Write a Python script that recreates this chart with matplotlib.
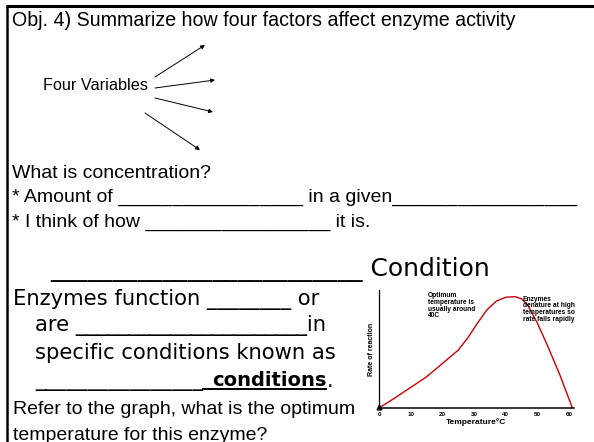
import matplotlib
matplotlib.use("Agg")
import matplotlib.pyplot as plt

# curve (temperature in C, relative rate)
temps = [0, 5, 10, 15, 20, 25, 28, 31, 34, 37, 40, 43, 45, 47, 50, 53, 57, 61]
rates = [0, 9, 18.5, 28, 40, 52, 63, 76, 88, 96, 99.5, 100, 98, 92, 76, 57, 30, 0]
xticks = [0, 10, 20, 30, 40, 50, 60]

title_text = "Obj. 4) Summarize how four factors affect enzyme activity"
arial_lines = [
    "What is concentration?",
    "* Amount of _________________ in a given_________________",
    "* I think of how _________________ it is.",
]
comic_lines = [
    "Enzymes function ________ or",
    "are ______________________in",
    "specific conditions known as",
]
question = ["Refer to the graph, what is the optimum", "temperature for this enzyme?"]
note_opt = "Optimum\ntemperature is\nusually around\n40C"
note_den = "Enzymes\ndenature at high\ntemperatures so\nrate falls rapidly"

W, H = 594, 442
fig = plt.figure(figsize=(W / 100, H / 100), dpi=100)
bg = fig.add_axes([0, 0, 1, 1])
bg.set_xlim(0, W)
bg.set_ylim(H, 0)
bg.axis("off")

sans = "Liberation Sans"
comic = "DejaVu Sans"

# slide border (top and left)
bg.plot([6, W], [5.5, 5.5], color="black", lw=2.2, solid_capstyle="butt")
bg.plot([7, 7], [4.5, H], color="black", lw=1.8, solid_capstyle="butt")

bg.text(12, 21, title_text, fontsize=14.1, family=sans, va="center")
bg.text(43, 85, "Four Variables", fontsize=11.7, family=sans, va="center")

arrows = [((155, 77), (205, 45)), ((155, 88), (215, 80)),
          ((155, 98), (213, 112)), ((145, 113), (200, 150))]
for start, tip in arrows:
    bg.annotate("", xy=tip, xytext=start,
                arrowprops=dict(arrowstyle="-|>", color="black", lw=0.7,
                                mutation_scale=6, shrinkA=0, shrinkB=0))

for i, line in enumerate(arial_lines):
    bg.text(12, 173 + 24.5 * i, line, fontsize=14, family=sans, va="center")

bg.text(50, 270, "_________________________ Condition", fontsize=18,
        family=comic, va="center")

bg.text(13, 299, comic_lines[0], fontsize=15.2, family=comic, va="center")
bg.text(35, 326, comic_lines[1], fontsize=15.2, family=comic, va="center")
bg.text(35, 353, comic_lines[2], fontsize=15.2, family=comic, va="center")
blank = bg.text(35, 381, "________________", fontsize=15.2, family=comic, va="center")
fig.canvas.draw()
bb = blank.get_window_extent()
x_end = bb.x1 / fig.dpi * 100
word = bg.text(x_end + 9, 381, "conditions", fontsize=14, family=comic,
               weight="bold", va="center")
fig.canvas.draw()
wb = word.get_window_extent()
bg.plot([x_end, wb.x1], [388.5, 388.5], color="black", lw=1.4)
bg.text(wb.x1, 381, ".", fontsize=15.2, family=comic, va="center")

bg.text(13, 410, question[0], fontsize=14, family=sans, va="center")
bg.text(13, 435, question[1], fontsize=14, family=sans, va="center")

# the small graph
ax = fig.add_axes([379 / W, (H - 408) / H, (574 - 379) / W, (408 - 290) / H])
ax.plot(temps, rates, color="#cc0000", lw=1.0)
ax.set_xlim(0, 61.5)
ax.set_ylim(0, 106)
ax.spines["top"].set_visible(False)
ax.spines["right"].set_visible(False)
ax.spines["left"].set_linewidth(0.9)
ax.spines["bottom"].set_linewidth(1.1)
ax.plot(0, 1, marker="^", color="black", markersize=3.5,
        transform=ax.get_yaxis_transform(), clip_on=False)
ax.set_xticks(xticks)
ax.set_xticklabels([str(t) for t in xticks], fontsize=4.5, weight="bold",
                   family=sans)
ax.set_yticks([])
ax.tick_params(axis="x", length=0, pad=3)
ax.set_xlabel("Temperature\u00b0C", fontsize=6, weight="bold", family=sans,
              labelpad=1)
ax.set_ylabel("Rate of reaction", fontsize=5, weight="bold", family=sans,
              labelpad=3)
ax.patch.set_alpha(0)

ax.text(15.5, 104, note_opt, fontsize=4.8, weight="bold", family=sans,
        va="top", linespacing=0.95)
ax.text(45.3, 101, note_den, fontsize=4.8, weight="bold", family=sans,
        va="top", linespacing=0.95)

fig.savefig("out.png", dpi=100)
